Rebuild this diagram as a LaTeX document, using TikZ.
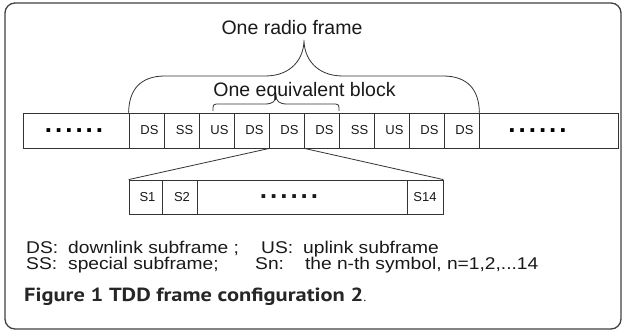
\documentclass[tikz,border=0pt]{standalone}
\usepackage{fontspec}
\setmainfont{Liberation Sans}
\newfontfamily\legfont[FakeStretch=1.13]{Liberation Sans}
\newfontfamily\capfont[FakeStretch=1.18]{PT Sans}
\begin{document}
\begin{tikzpicture}[x=1pt,y=-1pt,
  line/.style={draw=black!80, line width=0.8pt},
  cell/.style={line, minimum width=35pt, minimum height=35pt, inner sep=0pt, text=black!90, font=\fontsize{13}{13}\selectfont},
  scell/.style={line, minimum height=34pt, inner sep=0pt, text=black!90, font=\fontsize{13}{13}\selectfont},
  brace/.style={draw=black!80, line width=0.8pt},
  big/.style={text=black!90, inner sep=0pt, font=\fontsize{19.5}{20}\selectfont},
  legend/.style={text=black!90, inner sep=0pt, anchor=base west, font=\legfont\fontsize{17}{17}\selectfont}]
\newcommand{\dotrow}{{\fontsize{26}{26}\selectfont\bfseries .\hspace{3pt}.\hspace{3pt}.\hspace{3pt}.\hspace{3pt}.\hspace{3pt}.}}
\useasboundingbox (0,0) rectangle (625,334);
% frame
\draw[rounded corners=10pt, line width=1.3pt, draw=black!75] (5,3) rectangle (621,329);
% main bar
\node[line, minimum width=106pt, minimum height=35pt, inner sep=0pt] (L) at (76,130.5) {\hspace*{-4pt}\dotrow};
\foreach \t [count=\i from 0] in {DS,SS,US,DS,DS,DS,SS,US,DS,DS}
  \node[cell] (c\i) at ({146.5+35*\i},130.5) {\hspace*{6pt}\t};
\node[line, minimum width=139pt, minimum height=35pt, inner sep=0pt] (R) at (548.5,130.5) {\hspace*{-22pt}\dotrow};
% symbol bar
\node[scell, minimum width=33pt] (s1) at (145.5,197) {\hspace*{4pt}S1};
\node[scell, minimum width=35pt] (s2) at (179.5,197) {\hspace*{5pt}S2};
\node[scell, minimum width=210pt] (sd) at (302,197) {\hspace*{-26pt}\dotrow};
\node[scell, minimum width=36pt] (s14) at (425,197) {S14};
% zoom lines
\draw[line] (c3.south east) -- (s1.north west);
\draw[line] (c4.south east) -- (s14.north east);
% big brace
\draw[brace] (c0.north west) .. controls (129,90) and (140,76) .. (165,76) -- (265,76)
  .. controls (292,76) and (304,58) .. (304,40)
  .. controls (304,58) and (316,76) .. (343,76) -- (443,76)
  .. controls (468,76) and (479,90) .. (c9.north east);
% small brace
\coordinate (ebl) at (213,111);
\coordinate (ebr) at (339,111);
\draw[brace] (ebl) .. controls (213,104) .. (220,104) -- (265,104)
  .. controls (273,104) and (276,101) .. (276,95)
  .. controls (276,101) and (279,104) .. (287,104) -- (332,104)
  .. controls (339,104) .. (ebr);
% labels
\node[big, anchor=base] (rf) at (292,35) {One radio frame};
\node[big, anchor=base] (eb) at (304.5,97) {One equivalent block};
% legend
\node[legend] (l1a) at (26,254) {DS:\hspace{10pt}downlink subframe ;};
\node[legend] (l1b) at (261,254) {US:\hspace{10pt}uplink subframe};
\node[legend] (l2a) at (26,270) {SS:\hspace{11pt}special subframe;};
\node[legend] (l2b) at (255,270) {Sn:\hspace{21pt}the n-th symbol, n=1,2,...14};
% caption
\node[anchor=base west, inner sep=0pt, text=black!85, font=\capfont\fontsize{19}{19}\selectfont] (cap) at (24,302) {\bfseries Figure 1 TDD frame configuration 2\mdseries\fontsize{12}{12}\selectfont.};
\end{tikzpicture}
\end{document}
